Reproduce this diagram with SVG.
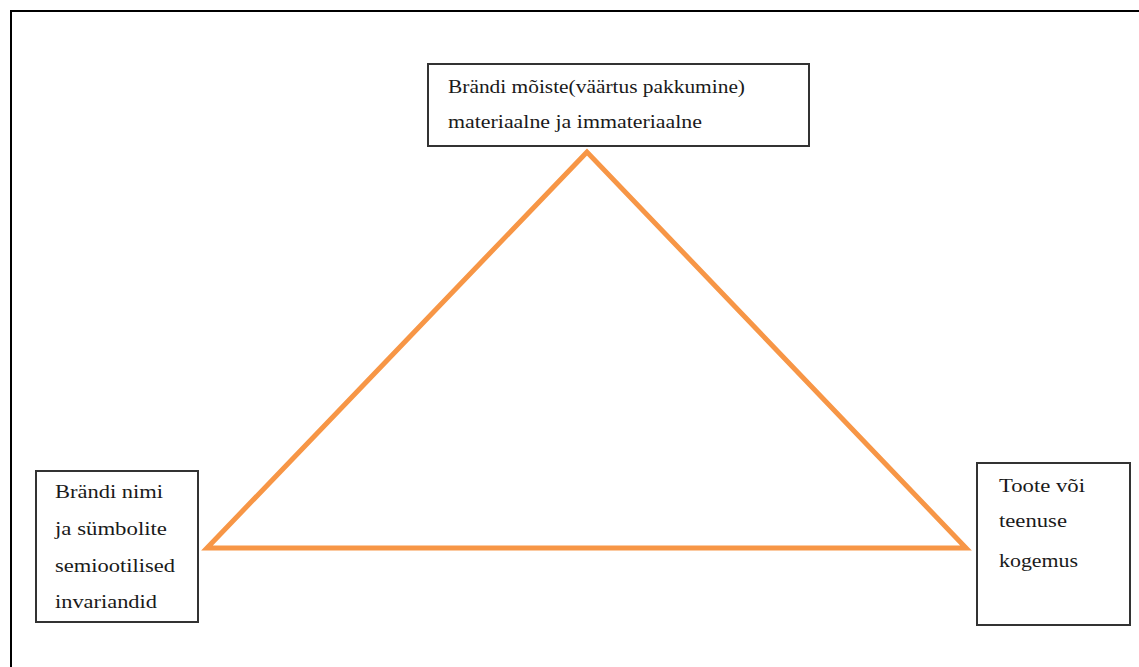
<svg xmlns="http://www.w3.org/2000/svg" width="1139" height="667" viewBox="0 0 1139 667">
<style>
.box{fill:#fff;stroke:#333;stroke-width:2}
.t{font-family:"Liberation Serif","Times New Roman",serif;font-size:18px;fill:#1a1a1a}
.tri{fill:none;stroke:#F79646;stroke-width:5;stroke-linejoin:miter}
</style>
<rect x="0" y="0" width="1139" height="667" fill="#fff"/>
<path d="M11 667 V11 H1139" fill="none" stroke="#000" stroke-width="2"/>
<g id="connectors">
<polygon class="tri" points="587,152 207,548 966,548"/>
</g>
<g id="node-top">
<rect class="box" x="428" y="64" width="381" height="82"/>
<text class="t" x="448" y="93" textLength="297" lengthAdjust="spacingAndGlyphs">Brändi mõiste(väärtus pakkumine)</text>
<text class="t" x="448" y="128" textLength="254" lengthAdjust="spacingAndGlyphs">materiaalne ja immateriaalne</text>
</g>
<g id="node-left">
<rect class="box" x="36" y="471" width="162" height="151"/>
<text class="t" x="55" y="498" textLength="108" lengthAdjust="spacingAndGlyphs">Brändi nimi</text>
<text class="t" x="55" y="535" textLength="112" lengthAdjust="spacingAndGlyphs">ja sümbolite</text>
<text class="t" x="55" y="572" textLength="120" lengthAdjust="spacingAndGlyphs">semiootilised</text>
<text class="t" x="55" y="608" textLength="102" lengthAdjust="spacingAndGlyphs">invariandid</text>
</g>
<g id="node-right">
<rect class="box" x="977" y="463" width="153" height="162"/>
<text class="t" x="999" y="492" textLength="86" lengthAdjust="spacingAndGlyphs">Toote või</text>
<text class="t" x="999" y="527" textLength="68" lengthAdjust="spacingAndGlyphs">teenuse</text>
<text class="t" x="999" y="567" textLength="79" lengthAdjust="spacingAndGlyphs">kogemus</text>
</g>
</svg>
